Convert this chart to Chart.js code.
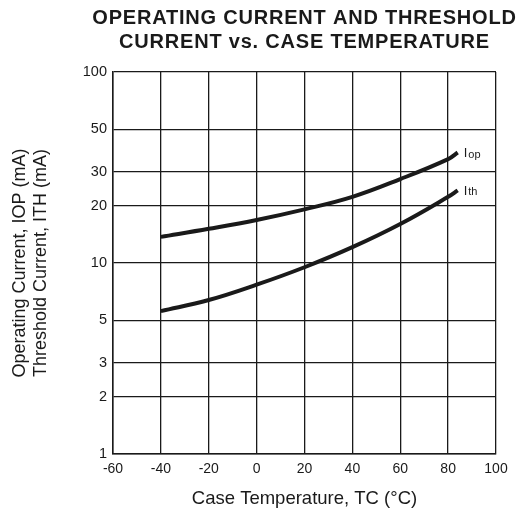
<!DOCTYPE html>
<html>
<head>
<meta charset="utf-8">
<script src="https://cdn.jsdelivr.net/npm/chart.js@4"></script>
<style>
  html, body { margin: 0; padding: 0; background: #fff; }
  #wrap { width: 518px; height: 520px; }
</style>
</head>
<body>
<div id="wrap"><canvas id="chart"></canvas></div>
<script>
const temps = [-40, -20, 0, 20, 40, 60, 80, 84]
const iop = [13.7, 15.1, 16.8, 19.1, 22.2, 27.5, 35, 37.9]
const ith = [5.6, 6.4, 7.7, 9.5, 12.1, 16.0, 22.2, 24.0]
const yTicks = [1, 2, 3, 5, 10, 20, 30, 50, 100]
const xTicks = [-60, -40, -20, 0, 20, 40, 60, 80, 100]
const titleLines = ['OPERATING CURRENT AND THRESHOLD', 'CURRENT vs. CASE TEMPERATURE']
const seriesLabels = [['I', 'op'], ['I', 'th']]

const ink = '#1a1a1a'
const font = '"Liberation Sans", Arial, sans-serif'

const toPoints = (ys) => temps.map((t, i) => ({ x: t, y: ys[i] }))

const overlay = {
  id: 'overlay',
  afterDraw (chart) {
    const { ctx, chartArea, scales } = chart
    ctx.save()
    // title, centred over the plot area
    ctx.fillStyle = ink
    ctx.font = 'bold 20px ' + font
    ctx.letterSpacing = '0.8px'
    ctx.textAlign = 'center'
    ctx.textBaseline = 'middle'
    const cx = (chartArea.left + chartArea.right) / 2
    titleLines.forEach((t, i) => ctx.fillText(t, cx, 18 + i * 24))
    ctx.letterSpacing = '0px'

    // curve labels at the end of each series
    ctx.textAlign = 'left'
    chart.data.datasets.forEach((ds, i) => {
      const last = ds.data[ds.data.length - 1]
      const px = scales.x.getPixelForValue(last.x) + 6
      const py = scales.y.getPixelForValue(last.y) + 1
      ctx.font = '13px ' + font
      ctx.fillText(seriesLabels[i][0], px, py)
      const w = ctx.measureText(seriesLabels[i][0]).width
      ctx.font = '11px ' + font
      ctx.fillText(seriesLabels[i][1], px + w + 1, py + 1)
    })
    ctx.restore()
  }
}

const lineStyle = {
  borderColor: ink,
  borderWidth: 4,
  pointRadius: 0,
  fill: false,
  tension: 0.4,
  borderCapStyle: 'butt'
}

new Chart(document.getElementById('chart'), {
  type: 'line',
  data: {
    datasets: [
      Object.assign({ label: 'Iop', data: toPoints(iop) }, lineStyle),
      Object.assign({ label: 'Ith', data: toPoints(ith) }, lineStyle)
    ]
  },
  options: {
    responsive: true,
    maintainAspectRatio: false,
    animation: false,
    layout: { padding: { top: 72, right: 22, left: 0, bottom: 0 } },
    plugins: {
      legend: { display: false },
      tooltip: { enabled: false },
      title: { display: false }
    },
    scales: {
      x: {
        type: 'linear',
        min: -60,
        max: 100,
        afterBuildTicks: (scale) => { scale.ticks = xTicks.map(v => ({ value: v })) },
        afterFit: (scale) => { scale.height = 66 },
        ticks: { color: ink, font: { family: font, size: 14 }, padding: 7, maxRotation: 0 },
        grid: { color: ink, lineWidth: 1.3, drawTicks: false },
        border: { color: ink, width: 1.5 },
        title: {
          display: true,
          text: 'Case Temperature, TC (°C)',
          color: ink,
          font: { family: font, size: 18.5 },
          padding: { top: 10, bottom: 10 }
        }
      },
      y: {
        type: 'logarithmic',
        min: 1,
        max: 100,
        afterBuildTicks: (scale) => { scale.ticks = yTicks.map(v => ({ value: v })) },
        afterFit: (scale) => { scale.width = 113 },
        ticks: {
          color: ink,
          font: { family: font, size: 14.5 },
          padding: 6,
          callback: (v) => String(v)
        },
        grid: { color: ink, lineWidth: 1.3, drawTicks: false },
        border: { color: ink, width: 1.5 },
        title: {
          display: true,
          text: ['Operating Current, IOP (mA)', 'Threshold Current, ITH (mA)'],
          color: ink,
          font: { family: font, size: 18 },
          padding: { top: 9, bottom: 0 }
        }
      }
    }
  },
  plugins: [overlay]
})
</script>
</body>
</html>
